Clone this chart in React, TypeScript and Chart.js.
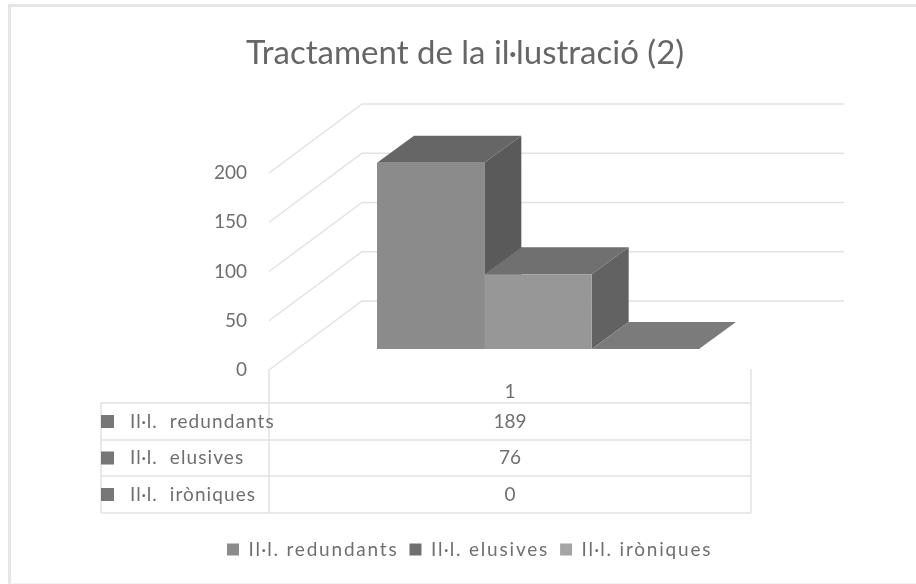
import React, { useEffect, useRef } from "react";
import { Chart, registerables } from "chart.js";

Chart.register(...registerables);

const categories = ["1"];
const seriesNames = ["Il·l. redundants", "Il·l. elusives", "Il·l. iròniques"];
const redundants = [189];
const elusives = [76];
const ironiques = [0];
const titleText = "Tractament de la il·lustració (2)";
const yTicks = [0, 50, 100, 150, 200];

const FONT = "Lato, sans-serif";
const TEXT = "#6f6f6f";
const GRID = "#e2e2e2";
const frontColors = ["#8b8b8b", "#979797", "#a5a5a5"];
const topColors = ["#666666", "#707070", "#7b7b7b"];
const sideColors = ["#5a5a5a", "#626262", "#6c6c6c"];
const legendColors = ["#8b8b8b", "#6f6f6f", "#a5a5a5"];

const W = 916;
const H = 584;
const area = { left: 269, right: 751, top: 172, bottom: 369 };
const wall = { dx: 93, dy: -69, right: 844 };
const barShift = { x: 28, y: -21 };
const barDepth = { x: 37, y: -27 };
const table = { left: 101, rows: [403, 440, 476, 513], labelX: 130, swatch: 13 };

const depthPlugin = {
  id: "depth3d",
  beforeDatasetsDraw(chart: any) {
    const { ctx, scales } = chart;
    const y = scales.y;
    ctx.save();
    ctx.strokeStyle = GRID;
    ctx.lineWidth = 1.5;
    yTicks.forEach((v) => {
      const py = y.getPixelForValue(v);
      ctx.beginPath();
      ctx.moveTo(area.left, py);
      ctx.lineTo(area.left + wall.dx, py + wall.dy);
      ctx.lineTo(wall.right, py + wall.dy);
      ctx.stroke();
    });
    ctx.restore();
    ctx.save();
    ctx.translate(barShift.x, barShift.y);
    chart.data.datasets.forEach((_: any, i: number) => {
      const el = chart.getDatasetMeta(i).data[0] as any;
      const l = el.x - el.width / 2;
      const r = el.x + el.width / 2;
      ctx.fillStyle = sideColors[i];
      ctx.beginPath();
      ctx.moveTo(r, el.y);
      ctx.lineTo(r + barDepth.x, el.y + barDepth.y);
      ctx.lineTo(r + barDepth.x, el.base + barDepth.y);
      ctx.lineTo(r, el.base);
      ctx.closePath();
      ctx.fill();
      ctx.fillStyle = topColors[i];
      ctx.beginPath();
      ctx.moveTo(l, el.y);
      ctx.lineTo(l + barDepth.x, el.y + barDepth.y);
      ctx.lineTo(r + barDepth.x, el.y + barDepth.y);
      ctx.lineTo(r, el.y);
      ctx.closePath();
      ctx.fill();
    });
  },
  afterDatasetsDraw(chart: any) {
    const { ctx, scales } = chart;
    ctx.restore();
    ctx.save();
    ctx.strokeStyle = GRID;
    ctx.lineWidth = 1.5;
    ctx.beginPath();
    table.rows.forEach((ry) => {
      ctx.moveTo(table.left, ry);
      ctx.lineTo(area.right, ry);
    });
    ctx.moveTo(table.left, table.rows[0]);
    ctx.lineTo(table.left, table.rows[3]);
    ctx.moveTo(area.left, area.bottom);
    ctx.lineTo(area.left, table.rows[3]);
    ctx.moveTo(area.right, area.bottom);
    ctx.lineTo(area.right, table.rows[3]);
    ctx.stroke();
    ctx.font = `19px ${FONT}`;
    ctx.textBaseline = "middle";
    const cx = scales.x.getPixelForValue(0);
    chart.data.datasets.forEach((ds: any, i: number) => {
      const my = (table.rows[i] + table.rows[i + 1]) / 2;
      ctx.fillStyle = "#777777";
      ctx.fillRect(table.left, my - table.swatch / 2, table.swatch, table.swatch);
      ctx.fillStyle = TEXT;
      ctx.textAlign = "left";
      ctx.letterSpacing = "1.1px";
      ctx.fillText(ds.label.replace(" ", "  "), table.labelX, my);
      ctx.letterSpacing = "0px";
      ctx.textAlign = "center";
      ctx.fillText(String(ds.data[0]), cx, my);
    });
    ctx.restore();
  },
  beforeDraw(chart: any) {
    const t = chart.titleBlock;
    t.left = 14;
    t.right = W;
    const lg = chart.legend;
    lg.left = 216;
    lg.right = W;
    lg.top = 529;
    if (!lg.__spaced) {
      lg.__spaced = true;
      const draw = lg.draw.bind(lg);
      lg.draw = (...args: any[]) => {
        chart.ctx.letterSpacing = "1.8px";
        draw(...args);
        chart.ctx.letterSpacing = "0px";
      };
    }
  },
};

export default function App() {
  const ref = useRef<HTMLCanvasElement>(null);
  useEffect(() => {
    const chart = new Chart(ref.current as HTMLCanvasElement, {
      type: "bar",
      data: {
        labels: categories,
        datasets: [
          { label: seriesNames[0], data: redundants, backgroundColor: frontColors[0] },
          { label: seriesNames[1], data: elusives, backgroundColor: frontColors[1] },
          { label: seriesNames[2], data: ironiques, backgroundColor: frontColors[2] },
        ],
      },
      options: {
        responsive: false,
        animation: false,
        layout: { padding: { left: 0, right: W - area.right, top: 34, bottom: 0 } },
        datasets: { bar: { categoryPercentage: 0.668, barPercentage: 1 } },
        plugins: {
          tooltip: { enabled: false },
          title: {
            display: true,
            text: titleText,
            color: "#666666",
            font: { family: FONT, size: 33, weight: "normal", lineHeight: 1.2 },
            padding: { top: 0, bottom: 173 - 34 - 39.6 },
          },
          legend: {
            position: "bottom",
            align: "start",
            labels: {
              color: TEXT,
              font: { family: FONT, size: 19 },
              boxWidth: 12,
              boxHeight: 12,
              padding: 11,
              generateLabels: () =>
                seriesNames.map((n, i) => ({
                  text: n,
                  fillStyle: legendColors[i],
                  strokeStyle: legendColors[i],
                  lineWidth: 0,
                  fontColor: TEXT,
                  datasetIndex: i,
                })),
            },
          },
        },
        scales: {
          x: {
            grid: { display: false },
            border: { display: false },
            ticks: { color: TEXT, font: { family: FONT, size: 19 }, padding: 2 },
            afterFit: (s: any) => {
              s.height = 174;
            },
          },
          y: {
            min: 0,
            max: 200,
            grid: { display: false },
            border: { display: false },
            afterBuildTicks: (s: any) => {
              s.ticks = yTicks.map((value) => ({ value }));
            },
            ticks: {
              color: TEXT,
              font: { family: FONT, size: 19 },
              padding: 14,
            },
            afterFit: (s: any) => {
              s.width = area.left;
            },
          },
        },
      },
      plugins: [depthPlugin],
    } as any);
    return () => chart.destroy();
  }, []);
  return (
    <div
      style={{
        position: "absolute",
        left: 0,
        top: 0,
        width: W,
        height: H,
        background: "#fff",
      }}
    >
      <div
        style={{
          position: "absolute",
          left: 8,
          top: 4,
          width: W - 8,
          height: H - 4,
          borderTop: "3px solid #e6e6e6",
          borderLeft: "3px solid #e6e6e6",
          borderBottom: "1px solid #f2f2f2",
          boxSizing: "border-box",
        }}
      />
      <canvas ref={ref} width={W} height={H} style={{ display: "block", position: "relative" }} />
    </div>
  );
}
